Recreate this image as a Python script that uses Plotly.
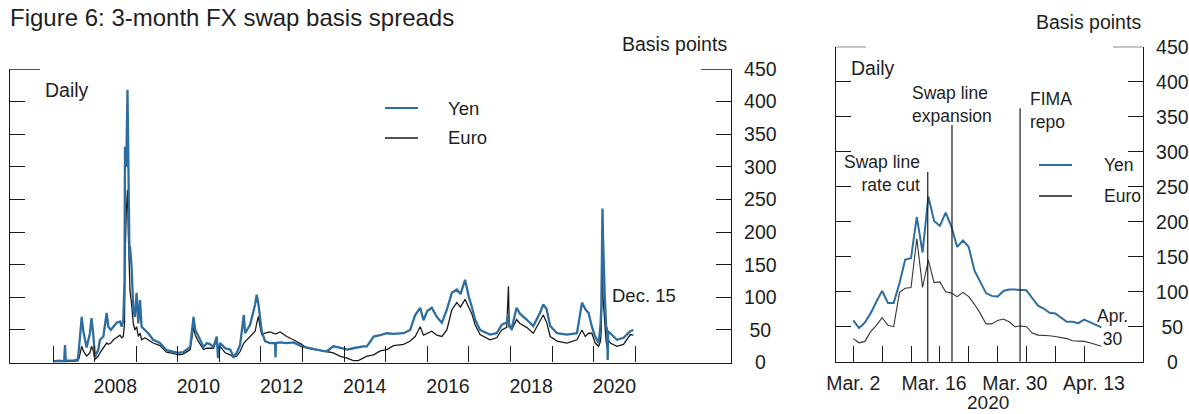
import plotly.graph_objects as go

W, H = 1189, 414

# ---------------- Left panel: daily series (read at irregular points) -------------
lp_dates = [
    "2007-01-01", "2007-02-25", "2007-04-09", "2007-04-16", "2007-04-23", "2007-07-02",
    "2007-08-08", "2007-08-19", "2007-09-10", "2007-09-24", "2007-10-23", "2007-11-21",
    "2007-12-05", "2007-12-20", "2008-01-04", "2008-02-03", "2008-02-17", "2008-03-18",
    "2008-04-16", "2008-05-01", "2008-05-23", "2008-06-14", "2008-07-13", "2008-08-11",
    "2008-08-26", "2008-09-09", "2008-09-20", "2008-09-24", "2008-10-05", "2008-10-16",
    "2008-10-23", "2008-11-03", "2008-11-07", "2008-11-21", "2008-12-06", "2008-12-20",
    "2009-01-04", "2009-01-19", "2009-02-03", "2009-02-17", "2009-03-18", "2009-04-16",
    "2009-05-30", "2009-07-28", "2009-09-24", "2009-11-21", "2010-01-04", "2010-02-17",
    "2010-04-20", "2010-05-19", "2010-06-03", "2010-07-02", "2010-08-15", "2010-09-13",
    "2010-10-12", "2010-11-10", "2010-12-09", "2010-12-20", "2011-01-08", "2011-02-21",
    "2011-04-06", "2011-05-05", "2011-06-03", "2011-07-02", "2011-08-04", "2011-08-15",
    "2011-09-28", "2011-11-11", "2011-11-25", "2011-12-10", "2011-12-24", "2012-01-08",
    "2012-02-06", "2012-03-21", "2012-05-04", "2012-05-08", "2012-05-12", "2012-06-18",
    "2012-08-15", "2012-10-12", "2012-12-24", "2013-02-06", "2013-05-05", "2013-07-31",
    "2013-09-28", "2013-11-24", "2014-01-26", "2014-03-22", "2014-05-05", "2014-06-18",
    "2014-07-20", "2014-09-17", "2014-11-14", "2015-01-11", "2015-03-11", "2015-06-07",
    "2015-08-04", "2015-09-17", "2015-10-31", "2015-11-29", "2016-01-01", "2016-02-10",
    "2016-03-25", "2016-05-08", "2016-06-21", "2016-08-04", "2016-09-17", "2016-10-19",
    "2016-11-28", "2017-01-01", "2017-01-26", "2017-02-24", "2017-04-09", "2017-07-05",
    "2017-09-02", "2017-10-16", "2017-11-29", "2017-12-14", "2017-12-21", "2018-01-11",
    "2018-02-24", "2018-03-25", "2018-05-23", "2018-07-20", "2018-09-17", "2018-10-16",
    "2018-11-14", "2018-12-16", "2019-02-14", "2019-05-12", "2019-08-08", "2019-09-21",
    "2019-10-20", "2019-11-18", "2019-12-17", "2020-01-15", "2020-02-14", "2020-03-02",
    "2020-03-09", "2020-03-13", "2020-03-17", "2020-03-18", "2020-03-19", "2020-03-24",
    "2020-03-31", "2020-04-08", "2020-04-20", "2020-04-30", "2020-05-04", "2020-05-08",
    "2020-05-27", "2020-07-24", "2020-09-20", "2020-11-18", "2020-12-15",
]
lp_yen = [
    2, 3, 2, 27, 3, 3,
    5, 30, 70, 48, 23, 45,
    68, 44, 9, 20, 35, 40,
    76, 55, 50, 55, 61, 63,
    55, 65, 126, 331, 300, 418,
    285, 157, 178, 147, 81, 70,
    107, 60, 96, 55, 50, 45,
    35, 30, 19, 17, 15, 16,
    24, 70, 50, 40, 24, 30,
    28, 24, 40, 7, 30, 22,
    20, 9, 15, 27, 73, 45,
    58, 89, 104, 90, 66, 48,
    33, 30, 30, 8, 30, 31,
    30, 31, 25, 23, 20, 17,
    25, 23, 20, 22, 24, 25,
    25, 40, 42, 45, 44, 45,
    50, 73, 84, 65, 79, 84,
    70, 61, 81, 107, 112, 105,
    127, 100, 86, 66, 50, 43,
    45, 58, 62, 75, 55, 52,
    84, 75, 66, 56, 76, 89,
    82, 56, 45, 43, 45, 92,
    82, 76, 55, 40, 30, 58,
    84, 146, 207, 156, 236, 193,
    130, 103, 57, 49, 4, 48,
    45, 35, 38, 48, 50,
]
lp_euro = [
    1, 1, 1, 2, 1, 2,
    3, 8, 25, 18, 10, 15,
    25, 18, 5, 10, 15, 22,
    30, 28, 30, 35, 38, 42,
    38, 40, 60, 150, 230, 265,
    200, 120, 110, 90, 60, 50,
    55, 40, 45, 35, 38, 35,
    30, 26, 16, 14, 12, 13,
    20, 55, 42, 32, 20, 22,
    22, 22, 35, 25, 25, 15,
    12, 8, 10, 17, 30, 32,
    40, 48, 60, 71, 55, 43,
    45, 47, 44, 44, 44, 47,
    40, 35, 28, 22, 20, 17,
    15, 10, 7, 3, 3, 7,
    10, 12, 18, 20, 26, 28,
    33, 40, 55, 42, 45, 48,
    42, 40, 50, 81, 92, 85,
    97, 85, 75, 58, 43, 35,
    38, 50, 54, 117, 60, 50,
    66, 60, 54, 45, 65, 73,
    62, 40, 33, 30, 35, 50,
    40, 45, 45, 30, 25, 33,
    52, 105, 176, 106, 145, 98,
    82, 50, 33, 22, 40, 35,
    30, 25, 28, 43, 42,
]

year_ticks = [f"{y}-01-01" for y in range(2007, 2022)]
year_labels = ["2008", "2010", "2012", "2014", "2016", "2018", "2020"]
year_label_pos = [f"{y}-07-01" for y in year_labels]

# ---------------- Right panel: March-April 2020 (business days) -------------------
rp_dates = [
    "2020-03-02", "2020-03-03", "2020-03-04", "2020-03-05", "2020-03-06",
    "2020-03-09", "2020-03-10", "2020-03-11", "2020-03-12", "2020-03-13",
    "2020-03-16", "2020-03-17", "2020-03-18", "2020-03-19", "2020-03-20",
    "2020-03-23", "2020-03-24", "2020-03-25", "2020-03-26", "2020-03-27",
    "2020-03-30", "2020-03-31", "2020-04-01", "2020-04-02", "2020-04-03",
    "2020-04-06", "2020-04-07", "2020-04-08", "2020-04-09", "2020-04-10",
    "2020-04-13", "2020-04-14", "2020-04-15", "2020-04-16", "2020-04-17",
    "2020-04-20", "2020-04-21", "2020-04-22", "2020-04-23", "2020-04-24",
    "2020-04-27", "2020-04-28", "2020-04-29", "2020-04-30",
]
rp_yen = [59, 48, 56, 69, 86, 101, 84, 84, 112, 146, 148, 207, 156, 236, 201,
          194, 213, 193, 164, 173, 164, 130, 114, 98, 94, 93, 101, 103, 103, 103,
          102, 91, 80, 76, 70, 69, 63, 57, 57, 55, 60, 56, 52, 49]
rp_euro = [33, 27, 29, 43, 52, 63, 52, 50, 99, 105, 106, 176, 106, 145, 113,
           114, 100, 98, 93, 99, 93, 82, 69, 54, 54, 59, 61, 57, 50, 51,
           50, 41, 38, 38, 37, 36, 35, 33, 30, 30, 29, 27, 25, 22]
rp_x = list(range(len(rp_dates)))
rp_tick_pos = list(range(0, 41, 5))
rp_label_text = ["Mar. 2", "Mar. 16", "Mar. 30", "Apr. 13"]
rp_label_pos = [0, 14, 28, 41.7]

event_text = ["Swap line<br>rate cut", "Swap line<br>expansion", "FIMA<br>repo"]
event_pos = [12.9, 17.1, 28.9]
event_top = [271, 338, 362]

y_ticks = list(range(0, 451, 50))

# ---------------- styling ----------------
BLUE = "#2e6d9f"
BLACK = "#1a1a1a"
FONT = "Liberation Sans, Arial, sans-serif"
TXT = "#1e1e1e"


def px(x):
    return x / W


def py(y):
    return 1 - y / H


def centered(t):
    s = str(t)
    if len(s) == 1:
        return "\u2007" + s
    if len(s) == 2:
        return "\u2008" + s
    return s


fig = go.Figure()

fig.add_trace(go.Scatter(x=lp_dates, y=lp_euro, mode="lines", name="Euro",
                         line=dict(color=BLACK, width=1.3), xaxis="x", yaxis="y",
                         showlegend=False))
fig.add_trace(go.Scatter(x=lp_dates, y=lp_yen, mode="lines", name="Yen",
                         line=dict(color=BLUE, width=2.3), xaxis="x", yaxis="y",
                         showlegend=False))
fig.add_trace(go.Scatter(x=rp_x, y=rp_euro, mode="lines", name="Euro",
                         text=rp_dates, line=dict(color="#333333", width=1.1),
                         xaxis="x2", yaxis="y2", showlegend=False))
fig.add_trace(go.Scatter(x=rp_x, y=rp_yen, mode="lines", name="Yen",
                         text=rp_dates, line=dict(color=BLUE, width=2),
                         xaxis="x2", yaxis="y2", showlegend=False))

tickfont = dict(family=FONT, size=19.5, color=TXT)

yax_common = dict(
    range=[0, 450], tickmode="array", tickvals=y_ticks,
    ticktext=[centered(v) for v in y_ticks],
    side="right", showline=True, linecolor=BLACK, linewidth=1.3,
    mirror="ticks", ticks="inside", ticklen=15, tickwidth=1.3, tickcolor=BLACK,
    showgrid=False, zeroline=False, tickfont=tickfont, ticklabelstandoff=8,
    fixedrange=True, automargin=False,
)

fig.update_layout(
    template="none",
    width=W, height=H, autosize=False,
    margin=dict(l=0, r=0, t=0, b=0, pad=0, autoexpand=False),
    paper_bgcolor="white", plot_bgcolor="white",
    font=dict(family=FONT, color=TXT),
    xaxis=dict(
        type="date", domain=[px(10), px(731)], range=["2005-12-19", "2023-04-22"],
        anchor="y", showline=True, linecolor=BLACK, linewidth=1.3,
        tickmode="array", tickvals=year_label_pos, ticktext=year_labels,
        ticks="", showgrid=False, zeroline=False, tickfont=tickfont,
        ticklabelstandoff=6, automargin=False,
        minor=dict(tickmode="array", tickvals=year_ticks, ticks="inside",
                   ticklen=16, tickwidth=1.3, tickcolor=BLACK, showgrid=False),
    ),
    yaxis=dict(domain=[py(362.6), py(69)], anchor="x", **yax_common),
    xaxis2=dict(
        domain=[px(836), px(1143)], range=[-3.0, 50.2], anchor="y2",
        showline=True, linecolor=BLACK, linewidth=1.3,
        tickmode="array", tickvals=rp_label_pos, ticktext=rp_label_text,
        ticks="", showgrid=False, zeroline=False, tickfont=tickfont,
        ticklabelstandoff=4, automargin=False,
        minor=dict(tickmode="array", tickvals=rp_tick_pos, ticks="inside",
                   ticklen=16, tickwidth=1.3, tickcolor=BLACK, showgrid=False),
    ),
    yaxis2=dict(domain=[py(361.7), py(46.7)], anchor="x2", **yax_common),
    showlegend=False,
)

shapes = []
# longer top ticks at 450
for xr, w in (("x domain", 721), ("x2 domain", 307)):
    yr = "y" if xr == "x domain" else "y2"
    shapes.append(dict(type="line", xref=xr, yref=yr, x0=0, x1=30 / w, y0=450, y1=450,
                       line=dict(color=BLACK, width=1.3)))
    shapes.append(dict(type="line", xref=xr, yref=yr, x0=1 - 30 / w, x1=1, y0=450, y1=450,
                       line=dict(color=BLACK, width=1.3)))
# event lines
for pos, top in zip(event_pos, event_top):
    shapes.append(dict(type="line", xref="x2", yref="y2", x0=pos, x1=pos, y0=0, y1=top,
                       line=dict(color=BLACK, width=1.2)))
# legend samples
shapes += [
    dict(type="line", xref="paper", yref="paper", x0=px(385), x1=px(418), y0=py(108), y1=py(108),
         line=dict(color=BLUE, width=2)),
    dict(type="line", xref="paper", yref="paper", x0=px(385), x1=px(418), y0=py(138), y1=py(138),
         line=dict(color=BLACK, width=1.3)),
    dict(type="line", xref="paper", yref="paper", x0=px(1039), x1=px(1072), y0=py(165), y1=py(165),
         line=dict(color=BLUE, width=2)),
    dict(type="line", xref="paper", yref="paper", x0=px(1039), x1=px(1072), y0=py(196), y1=py(196),
         line=dict(color=BLACK, width=1.3)),
]
fig.update_layout(shapes=shapes)


def ann(text, x, y, size, xanchor="left", align="left"):
    return dict(text=text, xref="paper", yref="paper", x=px(x), y=py(y),
                xanchor=xanchor, yanchor="middle", align=align, showarrow=False,
                font=dict(family=FONT, size=size, color=TXT))


annotations = [
    ann("Figure 6: 3-month FX swap basis spreads", 8, 18, 24),
    ann("Basis points", 729, 43.5, 19.5, xanchor="right"),
    ann("Daily", 43, 90, 19.5),
    ann("Yen", 446, 108, 18.5),
    ann("Euro", 446, 138, 18.5),
    ann("Dec. 15", 610, 295, 18.5),
    ann("Basis points", 1143, 21.5, 19.5, xanchor="right"),
    ann("Daily", 849, 68, 19.5),
    ann("Yen", 1102, 165, 17.5),
    ann("Euro", 1102, 196, 17.5),
    ann("Apr.<br>30", 1112, 327, 17.5, xanchor="center", align="center"),
    ann("2020", 988, 402, 19, xanchor="center", align="center"),
    ann(event_text[0], 922, 173, 17.5, xanchor="right", align="right"),
    ann(event_text[1], 910, 104, 17.5),
    ann(event_text[2], 1028, 110, 17.5),
]
fig.update_layout(annotations=annotations)

fig.write_html(
    "out.html",
    config={"displayModeBar": False, "responsive": False},
    post_script="document.body.style.margin='0px';document.body.style.padding='0px';"
                "document.body.style.overflow='hidden';",
)
